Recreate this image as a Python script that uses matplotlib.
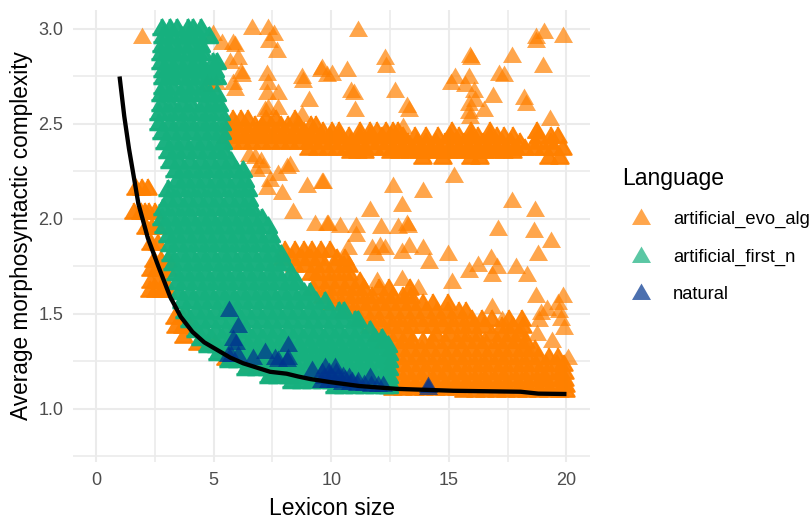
import matplotlib
matplotlib.use("Agg")
import matplotlib.pyplot as plt

plt.rcParams["font.family"] = ["Liberation Sans", "DejaVu Sans"]

# scattered artificial_evo_alg points
evo_x = [11.14, 19.03, 19.84, 18.7, 18.7, 17.69, 19.0, 15.9, 15.95, 12.3, 12.33, 10.67, 10.03, 9.6,
         15.1, 15.28, 15.87, 15.7, 17.15, 17.36, 16.06, 16.86, 12.7, 10.85, 10.95, 18.2, 18.3, 13.2,
         13.3, 13.07, 11.0, 15.85, 15.85, 16.5, 19.3, 18.7, 16.1, 15.9,
         15.23, 9.66, 12.64, 13.9, 13.0, 11.66, 17.69, 18.67, 17.07, 18.6, 13.2, 12.85, 13.25,
         9.87, 10.38, 11.06, 12.13, 11.06,
         1.94, 6.62, 7.32, 7.57, 7.36, 7.69, 5.83, 5.9, 5.35, 4.98, 5.7, 6.04, 6.16, 6.2, 7.28, 8.77,
         8.8, 9.57, 9.83, 5.9, 5.83, 7.26, 7.75, 7.32, 9.06, 7.3, 7.75, 7.2, 8.77, 4.7, 4.9, 5.1,
         6.77, 7.1, 8.26, 8.1, 7.75, 7.28, 7.9, 8.98, 9.6, 8.38, 9.3, 9.83, 7.0, 6.5, 6.8, 7.4,
         13.3, 14.98, 13.9, 14.17, 16.77, 16.24, 16.84, 17.05, 15.87, 17.86, 18.32, 18.8, 19.36,
         15.15, 13.7, 13.0, 18.72, 19.84, 19.66, 19.18, 19.88, 19.39, 20.05, 16.84, 17.26, 18.04,
         18.75, 18.28, 18.82, 11.87, 12.3, 11.73, 12.09, 10.72, 11.94, 13.0, 19.7, 19.75, 18.9]
evo_y = [2.99, 2.98, 2.96, 2.95, 2.93, 2.85, 2.80, 2.85, 2.84, 2.84, 2.80, 2.78, 2.76, 2.79,
         2.71, 2.74, 2.74, 2.70, 2.76, 2.75, 2.67, 2.64, 2.67, 2.67, 2.66, 2.63, 2.60, 2.59,
         2.57, 2.48, 2.57, 2.60, 2.56, 2.57, 2.52, 2.45, 2.62, 2.53,
         2.22, 2.19, 2.17, 2.14, 2.07, 2.04, 2.09, 2.04, 1.94, 1.93, 1.97, 1.95, 1.96,
         1.97, 1.96, 1.96, 1.95, 1.91,
         2.95, 3.0, 3.0, 2.97, 2.93, 2.88, 2.92, 2.91, 2.92, 2.97, 2.82, 2.84, 2.77, 2.75, 2.76, 2.74,
         2.72, 2.78, 2.75, 2.68, 2.71, 2.66, 2.66, 2.71, 2.62, 2.58, 2.58, 2.57, 2.54, 2.71, 2.70, 2.71,
         2.32, 2.27, 2.28, 2.27, 2.23, 2.16, 2.13, 2.17, 2.19, 2.03, 1.97, 1.97, 2.30, 2.33, 2.25, 2.20,
         1.85, 1.81, 1.84, 1.77, 1.79, 1.75, 1.70, 1.74, 1.72, 1.74, 1.70, 1.81, 1.88,
         1.66, 1.63, 1.68, 1.59, 1.59, 1.55, 1.52, 1.42, 1.35, 1.26, 1.53, 1.46, 1.41,
         1.39, 1.32, 1.46, 1.81, 1.84, 1.84, 1.85, 1.84, 1.67, 1.82, 1.51, 1.47, 1.50]

# dense parts of artificial_evo_alg, one list of x per y level
evo_levels = [2.52, 2.49, 2.46, 2.43, 2.40, 2.37, 2.35, 2.32,
              2.16, 2.03, 1.95, 1.87, 1.78, 1.73, 1.67, 1.62, 1.48, 1.43, 1.38, 1.34, 1.26, 1.22, 1.17,
              1.83, 1.79, 1.75, 1.71, 1.67, 1.63, 1.59, 1.55, 1.51, 1.47, 1.43, 1.39, 1.35, 1.31,
              1.27, 1.23, 1.19, 1.15, 1.12, 1.105, 1.095]
evo_rows = [
    [5.8, 6.1, 6.4, 7.2, 7.6, 8.4],
    [5.6, 5.9, 6.3, 6.7, 7.0, 7.4, 7.8, 8.1, 8.6, 9.1, 9.3],
    [5.6, 6.0, 6.4, 6.8, 7.2, 7.6, 8.0, 8.4, 8.8, 9.2, 9.6, 10.0, 10.3, 11.2, 11.6, 11.9, 12.3, 12.6, 12.8,
     15.07, 15.9, 16.7, 18.7],
    [5.5, 5.9, 6.3, 6.7, 7.1, 7.5, 7.9, 8.3, 8.7, 9.1, 9.5, 9.9, 10.3, 10.7, 11.2, 11.6, 12.1, 12.5, 13.0,
     13.5, 14.0, 14.5, 15.0, 15.4, 15.9, 16.2, 16.7, 17.0, 17.3, 17.7, 18.8, 19.3, 19.6],
    [5.8, 6.2, 6.6, 7.0, 7.4, 7.8, 8.2, 8.6, 9.0, 9.6, 10.0, 10.4, 10.8, 11.2, 11.6, 12.0, 12.4, 12.8, 13.2,
     13.6, 14.0, 14.4, 14.8, 15.2, 15.6, 16.0, 16.4, 16.8, 17.2, 17.6, 18.0, 18.6, 19.3],
    [9.0, 9.4, 9.8, 10.2, 10.6, 11.0, 11.4, 11.8, 12.2, 12.6, 13.0, 13.4, 13.8, 14.2, 14.6, 15.0, 15.4, 15.8,
     16.2, 16.6, 17.0, 17.4, 17.8, 18.2, 18.6, 19.0, 19.4, 19.8],
    [10.8, 11.1, 11.4, 12.5, 12.9, 13.3, 13.7, 14.1, 14.5, 14.9, 15.3, 15.7, 16.1, 16.5, 16.9, 17.3, 17.7],
    [13.86, 14.7, 15.9, 16.3, 19.2, 19.7],
    [1.66, 1.9, 2.17],
    [1.57, 1.85, 2.05, 2.2, 2.45],
    [2.1, 2.35, 2.6],
    [2.3, 2.6],
    [2.4, 2.7, 3.0],
    [2.3, 2.55, 2.8, 3.0],
    [2.3, 2.6, 2.9],
    [2.25, 2.5, 2.75, 3.0],
    [3.3, 3.6],
    [3.35, 3.65, 3.95],
    [3.7],
    [4.3, 4.7, 5.0],
    [5.5, 5.7],
    [6.4, 6.7, 7.0],
    [7.4, 7.8, 8.2],
    [8.0, 8.4, 8.8, 9.15, 9.5, 9.9],
    [7.9, 8.3, 8.7, 9.1, 9.4, 10.2, 10.55],
    [8.4, 8.8, 9.3, 9.7, 10.1, 10.5, 10.7],
    [9.1, 9.4, 9.85, 10.3, 10.7],
    [9.4, 9.85, 10.3, 10.7, 11.2],
    [9.2, 9.7, 10.1, 10.55, 10.95, 11.35, 12.0, 12.4, 13.3],
    [9.6, 10.05, 10.5, 10.9, 11.3, 11.7, 12.2, 12.6, 13.0, 13.35],
    [10.0, 10.4, 10.85, 11.3, 11.7, 12.1, 12.55, 13.0, 13.4, 13.85, 14.3, 14.9],
    [10.5, 10.9, 11.35, 11.8, 12.2, 12.65, 13.1, 13.5, 14.0, 14.45, 14.9, 15.4, 15.7],
    [11.2, 11.6, 12.0, 12.45, 12.9, 13.3, 13.75, 14.2, 14.6, 15.05, 15.5, 15.95, 16.35, 16.8, 17.5, 18.05],
    [11.6, 12.05, 12.5, 12.9, 13.35, 13.8, 14.25, 14.65, 15.1, 15.55, 16.0, 16.45, 17.2, 17.7, 18.1],
    [11.9, 12.35, 12.8, 13.25, 14.4, 15.0, 15.6, 16.1, 16.8, 17.25, 17.6, 17.95],
    [12.2, 12.6, 13.0, 13.4, 13.85, 14.3, 14.8, 15.3, 15.65, 16.1, 16.5, 17.0, 17.4, 17.8, 18.25],
    [12.5, 12.95, 13.4, 13.8, 14.25, 14.7, 15.15, 15.55, 16.0, 16.45, 16.9, 17.3, 17.75, 18.2, 18.6],
    [12.6, 13.05, 13.5, 13.9, 14.35, 14.8, 15.25, 15.65, 16.1, 16.55, 17.0, 17.4, 17.85, 18.3, 18.75, 19.2,
     19.6],
    [12.55, 13.0, 13.4, 13.85, 14.3, 14.75, 15.15, 15.6, 16.05, 16.5, 16.9, 17.35, 17.8, 18.25, 18.65, 19.1,
     19.55, 19.85],
    [12.6, 13.05, 13.5, 13.9, 14.35, 14.8, 15.25, 15.65, 16.1, 16.55, 17.0, 17.4, 17.85, 18.3, 18.75, 19.15,
     19.6, 19.9],
    [12.5, 13.0, 13.4, 13.85, 14.3, 14.7, 15.15, 15.6, 16.05, 16.5, 16.9, 17.35, 17.8, 18.25, 18.7, 19.1,
     19.55, 19.9],
    [12.6, 13.05, 13.5, 13.9, 14.35, 14.8, 15.2, 15.65, 16.1, 16.55, 17.0, 17.4, 17.85, 18.3, 18.7, 19.15,
     19.6, 19.95],
    [12.6, 13.0, 13.5, 13.9, 14.4, 14.8, 15.3],
    [15.6, 16.1, 16.5, 17.0, 17.4, 17.9, 18.3, 18.8, 19.2, 19.7, 19.95],
]

# artificial_first_n fills a solid area, also one list of x per y level
first_levels = [3.0, 2.96, 2.91, 2.87, 2.82, 2.78, 2.74, 2.69, 2.65, 2.6, 2.55, 2.5, 2.45, 2.4, 2.35, 2.3,
                2.25, 2.2, 2.15, 2.1, 2.05, 2.0, 1.96, 1.91, 1.86, 1.81, 1.76, 1.71, 1.66, 1.61, 1.56,
                1.51, 1.46, 1.41, 1.37, 1.33, 1.29, 1.25, 1.21, 1.17, 1.14, 1.115]
first_rows = [
    [2.75, 3.1, 3.4, 3.85, 4.1, 4.4],
    [2.8, 3.2, 3.6, 4.0, 4.35, 4.75],
    [2.75, 3.15, 3.6, 3.95, 4.4],
    [2.7, 3.1, 3.5, 3.9, 4.3, 4.5],
    [2.7, 3.1, 3.5, 3.95, 4.35, 4.95, 5.1],
    [2.8, 3.2, 3.6, 4.0, 4.4, 4.6, 5.0],
    [2.8, 3.2, 3.6, 4.0, 4.45, 4.85, 5.1],
    [2.8, 3.25, 3.7, 4.1, 4.5],
    [2.7, 3.1, 3.55, 4.0, 4.45, 4.8, 5.1],
    [2.7, 3.15, 3.6, 4.0, 4.5, 4.9, 5.2],
    [2.65, 3.1, 3.5, 3.95, 4.4, 4.8, 5.25],
    [2.65, 3.1, 3.55, 4.0, 4.45, 4.85, 5.3],
    [2.75, 3.2, 3.6, 4.05, 4.5, 4.9, 5.3],
    [2.9, 3.3, 3.75, 4.2, 4.6, 5.0, 5.35],
    [3.0, 3.4, 3.85, 4.3, 4.75, 5.15, 5.4],
    [3.1, 3.5, 3.95, 4.4, 4.85, 5.3, 5.7],
    [3.3, 3.7, 4.15, 4.6, 5.0, 5.45, 5.9, 6.2],
    [3.4, 3.8, 4.2, 4.65, 5.1, 5.5, 5.95, 6.3],
    [3.0, 3.5, 3.9, 4.35, 4.8, 5.2, 5.65, 6.1, 6.4],
    [3.0, 3.4, 3.85, 4.3, 4.7, 5.15, 5.6, 6.05, 6.45],
    [2.8, 3.25, 3.7, 4.1, 4.55, 5.0, 5.4, 5.85, 6.3, 6.6],
    [2.75, 3.2, 3.6, 4.05, 4.5, 4.9, 5.35, 5.8, 6.2, 6.65, 7.0],
    [2.85, 3.3, 3.7, 4.15, 4.6, 5.0, 5.45, 5.9, 6.35, 6.8, 7.25],
    [3.0, 3.4, 3.85, 4.3, 4.7, 5.15, 5.6, 6.0, 6.45, 6.9, 7.4],
    [3.1, 3.5, 3.95, 4.4, 4.85, 5.25, 5.7, 6.15, 6.6, 7.0, 7.5],
    [3.15, 3.6, 4.0, 4.45, 4.9, 5.35, 5.75, 6.2, 6.65, 7.1, 7.5, 7.8],
    [3.25, 3.7, 4.15, 4.55, 5.0, 5.45, 5.9, 6.3, 6.75, 7.2, 7.65, 8.0],
    [3.35, 3.8, 4.2, 4.65, 5.1, 5.5, 5.95, 6.4, 6.85, 7.3, 7.7, 8.25],
    [3.4, 3.85, 4.3, 4.75, 5.2, 5.6, 6.05, 6.5, 6.95, 7.35, 7.8, 8.25, 8.5],
    [3.5, 3.95, 4.4, 4.8, 5.25, 5.7, 6.15, 6.6, 7.0, 7.45, 7.9, 8.35, 8.8, 9.05],
    [3.6, 4.05, 4.5, 4.95, 5.35, 5.8, 6.25, 6.7, 7.1, 7.55, 8.0, 8.45, 8.85, 9.3, 9.7],
    [3.75, 4.2, 4.6, 5.05, 5.5, 5.9, 6.35, 6.8, 7.25, 7.65, 8.1, 8.55, 9.0, 9.4, 9.85, 10.3, 10.5],
    [3.95, 4.4, 4.8, 5.25, 5.7, 6.1, 6.55, 7.0, 7.45, 7.85, 8.3, 8.75, 9.2, 9.6, 10.05, 10.5, 10.95, 11.1],
    [4.2, 4.6, 5.05, 5.5, 5.9, 6.35, 6.8, 7.25, 7.65, 8.1, 8.55, 9.0, 9.4, 9.85, 10.3, 10.75, 11.15, 11.6],
    [4.4, 4.85, 5.3, 5.7, 6.15, 6.6, 7.0, 7.45, 7.9, 8.35, 8.75, 9.2, 9.65, 10.1, 10.5, 10.95, 11.4, 11.8,
     12.1],
    [4.7, 5.1, 5.55, 6.0, 6.4, 6.85, 7.3, 7.75, 8.15, 8.6, 9.05, 9.5, 9.9, 10.35, 10.8, 11.2, 11.65, 12.1,
     12.35],
    [5.15, 5.6, 6.05, 6.5, 6.9, 7.35, 7.8, 8.25, 8.65, 9.1, 9.55, 10.0, 10.4, 10.85, 11.3, 11.7, 12.15, 12.4],
    [5.6, 6.0, 6.45, 6.9, 7.35, 7.75, 8.2, 8.65, 9.1, 9.5, 9.95, 10.4, 10.85, 11.25, 11.7, 12.15, 12.4],
    [6.35, 6.8, 7.25, 7.7, 8.1, 8.55, 9.0, 9.45, 9.85, 10.3, 10.75, 11.2, 11.6, 12.05, 12.4],
    [7.3, 7.7, 8.15, 8.6, 9.05, 9.45, 9.9, 10.35, 10.8, 11.2, 11.65, 12.1, 12.4],
    [8.3, 8.7, 9.15, 9.6, 10.0, 10.45, 10.9, 11.3, 11.75, 12.2, 12.4],
    [10.1, 10.5, 10.95, 11.4, 11.8, 12.25, 12.4],
]

# natural languages
natural_x = [5.67, 6.04, 5.83, 5.95, 5.6, 5.75, 6.05, 6.68, 7.19, 8.17, 8.17, 7.62, 7.75, 8.13, 9.19,
             9.74, 10.17, 10.74, 11.15, 11.66, 12.2, 14.13, 14.13,
             9.6, 9.9, 10.2, 10.5, 9.7, 10.0, 10.3, 10.6, 10.9, 9.55, 9.85, 10.15, 10.45, 10.8, 11.1, 11.4,
             11.7, 12.0]
natural_y = [1.516, 1.43, 1.36, 1.34, 1.28, 1.28, 1.28, 1.26, 1.295, 1.33, 1.26, 1.26, 1.25, 1.25, 1.2,
             1.216, 1.216, 1.16, 1.14, 1.16, 1.12, 1.105, 1.115,
             1.19, 1.19, 1.19, 1.17, 1.16, 1.16, 1.16, 1.15, 1.14, 1.14, 1.14, 1.14, 1.13, 1.13, 1.125, 1.125,
             1.12, 1.12]

# black trend line
trend_x = [1.0, 1.2, 1.4, 1.8, 2.2, 2.65, 3.15, 3.6, 4.1, 4.6, 5.15, 5.7, 6.25, 7.4, 8.1, 8.6, 9.1, 10.0,
           11.2, 12.8, 15.2, 18.05, 18.8, 20.0]
trend_y = [2.75, 2.54, 2.37, 2.08, 1.9, 1.75, 1.59, 1.485, 1.405, 1.35, 1.31, 1.27, 1.24, 1.195, 1.185, 1.17,
           1.157, 1.14, 1.12, 1.105, 1.095, 1.09, 1.08, 1.078]

languages = ["artificial_evo_alg", "artificial_first_n", "natural"]
x_ticks = [0, 5, 10, 15, 20]
y_ticks = [1.0, 1.5, 2.0, 2.5, 3.0]


def flatten(levels, rows):
    xs, ys = [], []
    for y, row in zip(levels, rows):
        xs += row
        ys += [y] * len(row)
    return xs, ys


dense_x, dense_y = flatten(evo_levels, evo_rows)
first_x, first_y = flatten(first_levels, first_rows)

# triangle with the point at its centroid, like R's pch 17
triangle = [(-1, -0.577), (1, -0.577), (0, 1.155)]
size = 249
orange = "#FF8000"
green = "#16B07E"
blue = "#00338E"

fig = plt.figure(figsize=(8.11, 5.24), dpi=100)
ax = fig.add_axes([73 / 811, 62 / 524, 517 / 811, 452 / 524])

# the real chart stacks thousands of points, so the dense parts come out nearly opaque
# a thin edge in the same colour closes the small holes between the rows
ax.scatter(evo_x, evo_y, marker=triangle, s=size, color=orange, alpha=0.7, linewidths=0, zorder=3)
ax.scatter(dense_x, dense_y, marker=triangle, s=size - 20, facecolor=orange, edgecolor=orange, alpha=0.95,
           linewidths=1.6, zorder=3)
ax.scatter(first_x, first_y, marker=triangle, s=size - 20, facecolor=green, edgecolor=green, alpha=0.98,
           linewidths=2.2, zorder=4)
ax.scatter(natural_x, natural_y, marker=triangle, s=size, color=blue, alpha=0.7, linewidths=0, zorder=5)
ax.plot(trend_x, trend_y, color="black", lw=3.1, solid_capstyle="butt", solid_joinstyle="round", zorder=6)

ax.set_xlim(-0.98, 21.0)
ax.set_ylim(0.72, 3.1)
ax.set_xticks(x_ticks)
ax.set_yticks(y_ticks)
ax.set_yticklabels(["%.1f" % v for v in y_ticks])
ax.set_xticks([2.5, 7.5, 12.5, 17.5], minor=True)
ax.set_yticks([0.75, 1.25, 1.75, 2.25, 2.75], minor=True)
ax.grid(True, which="major", color="#EBEBEB", lw=1.5)
ax.grid(True, which="minor", color="#EBEBEB", lw=1.2)
ax.set_axisbelow(True)
for s in ax.spines.values():
    s.set_visible(False)
ax.tick_params(which="both", length=0)
ax.tick_params(axis="both", labelsize=13, labelcolor="#4D4D4D", pad=7)
ax.set_xlabel("Lexicon size", fontsize=16.5, labelpad=6)
ax.set_ylabel("Average morphosyntactic complexity", fontsize=16.3, labelpad=4)

# legend keys keep the single point transparency
handles = [ax.scatter([], [], marker=triangle, s=size, color=c, alpha=0.7, linewidths=0)
           for c in [orange, green, blue]]
leg = fig.legend(handles, languages, title="Language", loc="upper left",
                 bbox_to_anchor=(615 / 811, 1 - 160 / 524), frameon=False, fontsize=13.2,
                 title_fontsize=16.5, alignment="left", scatterpoints=1, labelspacing=1.12,
                 handlelength=2.0, handletextpad=0.75, borderaxespad=0)
fig.savefig("out.png", dpi=100)
